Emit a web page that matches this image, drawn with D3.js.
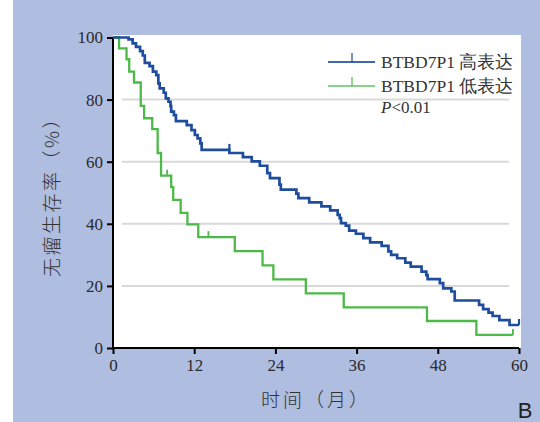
<!DOCTYPE html>
<html><head><meta charset="utf-8">
<script src="https://cdn.jsdelivr.net/npm/d3@7"></script>
<style>body{margin:0;background:#fff}svg{display:block}</style>
</head><body>
<svg id="c" width="540" height="422"></svg>
<script>
// Data
const highTimes = [0,2.3,2.9,3.4,4.0,4.4,4.7,5.4,5.9,6.4,6.7,6.9,7.5,7.8,8.2,8.5,8.6,9.0,9.3,10.9,11.6,12.1,12.5,12.9,13.1,17.2,19.2,20.5,21.7,22.8,23.2,24.6,24.8,27.1,27.4,29.0,30.8,32.1,33.2,33.5,33.7,34.4,34.9,35.9,37.0,38.0,39.7,40.7,41.1,42.0,43.2,44.0,45.6,46.3,46.5,48.3,48.8,50.0,50.5,54.1,54.7,55.5,56.1,57.1,58.6,60];
const highSurv  = [100,99.4,98.1,97,95.6,94.2,91.8,90.8,89,87.9,85.2,83.6,82.2,80.4,79.3,77.9,76.1,75,73.1,71.8,70.2,68.6,67.5,65.9,63.8,62.8,61.5,60.1,58.7,56.3,54.7,52.6,51,49.7,48.3,46.9,45.6,44.3,42.9,41.8,40.2,39.4,37.8,36.8,35.4,34,32.9,31.1,30,28.9,27.5,26.2,24.6,23.5,22.2,20.9,19.2,18.2,15.3,13.9,12.5,11.4,10.3,9.0,7.4,7.4];
const highCensor = [[17.2,63.8],[60,7.4]];
const lowTimes = [0,0.9,2.0,2.4,3.1,4.1,4.6,5.8,6.6,7.1,8.6,8.9,10.0,11.0,12.6,18.0,22.1,23.7,28.5,34.1,46.4,53.7,59.1];
const lowSurv  = [100,96.5,93,89,85.5,78,74,70.5,62.8,55.5,51.8,47.7,43.5,39.8,35.7,31.2,26.6,22.1,17.6,13.1,8.7,4.2,4.2];
const lowCensor = [[8.0,55.5],[14.1,35.7],[59.1,4.2]];
const xTicks = [0,12,24,36,48,60];
const yTicks = [0,20,40,60,80,100];
const gridVals = [20,40,60,80];
const seriesNames = ["BTBD7P1 高表达","BTBD7P1 低表达"];

const svg = d3.select("#c");
const BG = "#aebde0", BLUE = "#1f4c9d", GREEN = "#4cb948";
svg.append("rect").attr("x",13).attr("y",0).attr("width",527).attr("height",422).attr("fill",BG);

const x = d3.scaleLinear().domain([0,60]).range([113,519]);
const y = d3.scaleLinear().domain([0,100]).range([348,37.5]);

svg.append("rect").attr("x",113).attr("y",35).attr("width",408).attr("height",313).attr("fill","#fff");

// grid
svg.append("g").selectAll("line").data(gridVals).join("line")
  .attr("x1",122).attr("x2",509).attr("y1",d=>y(d)).attr("y2",d=>y(d))
  .attr("stroke","#d9d9d9").attr("stroke-width",2);

const serif = "'Liberation Serif','DejaVu Serif',serif";
// axes
const yAxis = svg.append("g").attr("transform","translate(113,0)")
  .call(d3.axisLeft(y).tickValues(yTicks).tickSize(6).tickPadding(4));
const xAxis = svg.append("g").attr("transform","translate(0,348)")
  .call(d3.axisBottom(x).tickValues(xTicks).tickSize(6).tickPadding(5));
[yAxis,xAxis].forEach(a=>{
  a.select(".domain").attr("stroke","#000").attr("stroke-width",2);
  a.selectAll(".tick line").attr("stroke","#000").attr("stroke-width",2);
  a.selectAll("text").attr("font-family",serif).attr("font-size",17).attr("fill","#2a2a2a");
});
xAxis.select(".domain").attr("d","M113,0H519");
yAxis.select(".domain").attr("d","M0,"+y(100)+"V348");

// curves
const line = d3.line().curve(d3.curveStepAfter).x(d=>x(d[0])).y(d=>y(d[1]));
function drawSeries(times, surv, cens, color, w){
  const pts = times.map((t,i)=>[t,surv[i]]);
  svg.append("path").attr("d",line(pts)).attr("fill","none").attr("stroke",color)
    .attr("stroke-width",w).attr("stroke-linejoin","miter");
  svg.append("g").selectAll("line").data(cens).join("line")
    .attr("x1",d=>x(d[0])).attr("x2",d=>x(d[0]))
    .attr("y1",d=>y(d[1])).attr("y2",d=>y(d[1])-6)
    .attr("stroke",color).attr("stroke-width",w*0.8);
}
drawSeries(lowTimes, lowSurv, lowCensor, GREEN, 2.3);
drawSeries(highTimes, highSurv, highCensor, BLUE, 2.7);

// legend
const leg = [[BLUE,62],[GREEN,86]];
leg.forEach((l,i)=>{
  svg.append("line").attr("x1",328).attr("x2",375).attr("y1",l[1]).attr("y2",l[1])
    .attr("stroke",l[0]).attr("stroke-width",i?1.6:1.8).attr("opacity",0.85);
  svg.append("line").attr("x1",352).attr("x2",352).attr("y1",l[1]).attr("y2",l[1]-9)
    .attr("stroke",l[0]).attr("stroke-width",1.2);
  svg.append("text").attr("x",381).attr("y",l[1]+6).attr("font-family",serif)
    .attr("font-size",17.5).attr("fill","#333").text(seriesNames[i]);
});
const pt = svg.append("text").attr("x",381).attr("y",113).attr("font-family",serif)
  .attr("font-size",17).attr("fill","#333");
pt.append("tspan").attr("font-style","italic").text("P");
pt.append("tspan").text("<0.01");

// titles
const cjk = "'Noto Sans CJK SC','Noto Sans',sans-serif";
svg.append("text").attr("x",316).attr("y",407).attr("text-anchor","middle")
  .attr("font-family",cjk).attr("font-size",19).attr("font-weight",300).attr("fill","#333")
  .attr("letter-spacing",3).text("时间（月）");
svg.append("text").attr("transform","translate(59,192) rotate(-90)").attr("text-anchor","middle")
  .attr("font-family",cjk).attr("font-size",19).attr("font-weight",300).attr("fill","#333")
  .attr("letter-spacing",2.5).text("无瘤生存率（%）");
svg.append("text").attr("x",525).attr("y",418).attr("text-anchor","middle")
  .attr("font-family","'Liberation Sans',Arial,sans-serif").attr("font-size",22).attr("fill","#222").text("B");
</script>
</body></html>
